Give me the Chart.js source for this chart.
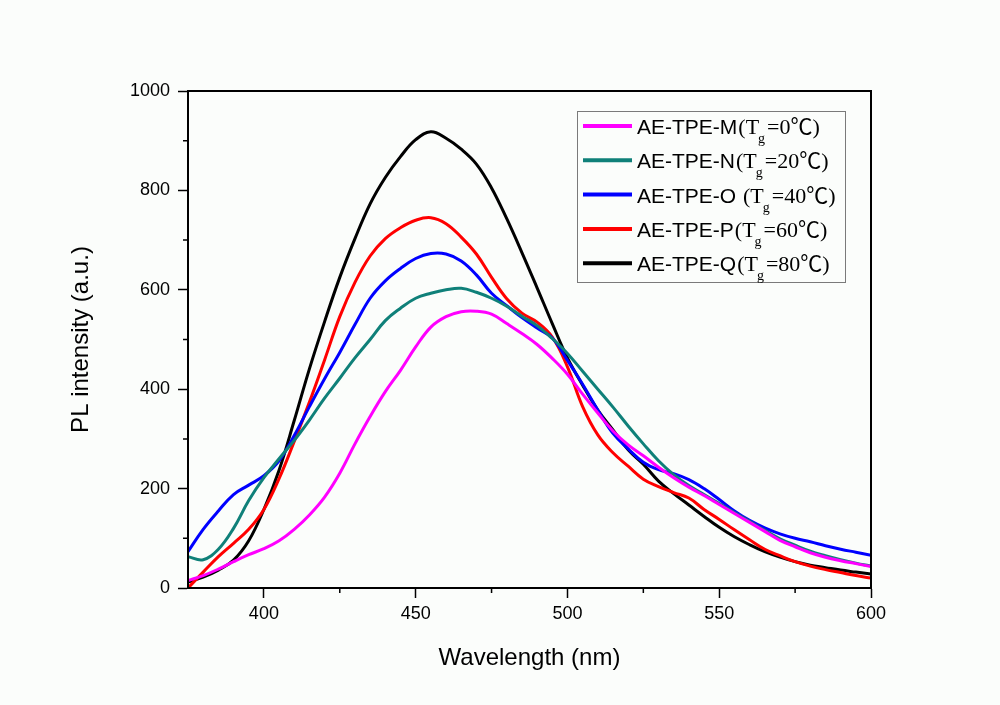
<!DOCTYPE html>
<html>
<head>
<meta charset="utf-8">
<script src="https://cdn.jsdelivr.net/npm/chart.js@4.4.0/dist/chart.umd.min.js"></script>
<style>
  html, body { margin: 0; padding: 0; background: #fbfdfb; }
  #wrap { width: 1000px; height: 705px; position: relative; }
</style>
</head>
<body>
<div id="wrap"><canvas id="chart"></canvas></div>
<script>
// wavelength (nm)
const wavelengths = [375, 380, 385, 390, 395, 400, 405, 410, 415, 420, 425, 430, 435, 440, 445, 450,
  455, 460, 465, 470, 475, 480, 485, 490, 495, 500, 505, 510, 515, 520, 525, 530, 535, 540,
  545, 550, 555, 560, 565, 570, 575, 580, 585, 590, 595, 600];

// PL intensity
const intensityM = [15, 25, 38, 53, 67, 79, 95, 118, 147, 183, 231, 290, 345, 395, 438, 485,
  525, 546, 556, 557, 551, 532, 512, 490, 462, 430, 390, 352, 316, 288, 266, 243, 222, 203,
  186, 168, 150, 132, 114, 96, 83, 71, 62, 55, 49, 43];
const intensityN = [63, 57, 78, 120, 176, 222, 260, 297, 338, 382, 422, 463, 500, 538, 563, 583,
  593, 600, 603, 595, 583, 567, 547, 528, 502, 472, 436, 400, 364, 326, 290, 256, 228, 206,
  188, 170, 152, 134, 116, 99, 86, 74, 65, 57, 50, 44];
const intensityO = [73, 118, 155, 188, 207, 226, 256, 307, 365, 421, 474, 530, 583, 618, 643, 663,
  673, 672, 658, 630, 593, 568, 544, 523, 503, 458, 410, 358, 311, 280, 253, 238, 230, 218,
  200, 178, 155, 136, 121, 109, 100, 93, 85, 78, 72, 66];
const intensityP = [0, 32, 63, 90, 118, 158, 220, 295, 374, 459, 546, 615, 668, 703, 725, 740,
  745, 733, 706, 672, 625, 582, 553, 535, 505, 445, 365, 308, 272, 245, 219, 204, 192, 181,
  158, 138, 117, 97, 78, 65, 53, 44, 37, 31, 25, 20];
const intensityQ = [12, 22, 36, 56, 95, 158, 237, 337, 441, 536, 625, 703, 773, 826, 868, 902,
  918, 905, 883, 853, 805, 743, 675, 604, 532, 463, 408, 358, 318, 278, 249, 215, 190, 167,
  144, 122, 103, 87, 73, 62, 53, 46, 41, 36, 32, 28];

const sampleNames = ['AE-TPE-M', 'AE-TPE-N', 'AE-TPE-O ', 'AE-TPE-P', 'AE-TPE-Q'];
const tgValues = ['0', '20', '40', '60', '80'];
const colors = ['#ff00ff', '#0f8079', '#0000ff', '#ff0000', '#000000'];

const xTicks = [400, 450, 500, 550, 600];
const xMinor = [425, 475, 525, 575];
const yTicks = [0, 200, 400, 600, 800, 1000];
const yMinor = [100, 300, 500, 700, 900];

const sans = '"Liberation Sans", Arial, sans-serif';
const serif = '"Liberation Serif", "Times New Roman", "Noto Sans CJK SC", serif';

const series = [intensityM, intensityN, intensityO, intensityP, intensityQ];

const bgPlugin = {
  id: 'bg',
  beforeDraw(chart) {
    const ctx = chart.ctx;
    ctx.save();
    ctx.fillStyle = '#fbfdfb';
    ctx.fillRect(0, 0, chart.width, chart.height);
    ctx.restore();
  }
};

// minor ticks and the closed frame round the plot
const framePlugin = {
  id: 'frame',
  afterDraw(chart) {
    const {ctx, chartArea: a, scales: {x, y}} = chart;
    ctx.save();
    ctx.strokeStyle = '#000';
    ctx.lineWidth = 1.5;
    ctx.beginPath();
    xMinor.forEach(v => {
      const px = x.getPixelForValue(v);
      ctx.moveTo(px, a.bottom);
      ctx.lineTo(px, a.bottom + 5);
    });
    yMinor.forEach(v => {
      const py = y.getPixelForValue(v);
      ctx.moveTo(a.left, py);
      ctx.lineTo(a.left - 5, py);
    });
    ctx.stroke();
    ctx.lineWidth = 2;
    ctx.strokeRect(a.left, a.top, a.right - a.left, a.bottom - a.top);
    ctx.restore();
  }
};

// legend with the subscript g in T_g
const legendPlugin = {
  id: 'tgLegend',
  afterDraw(chart) {
    const ctx = chart.ctx;
    const bx = 577, by = 111, bw = 268, bh = 171;
    ctx.save();
    ctx.fillStyle = '#fbfdfb';
    ctx.fillRect(bx, by, bw, bh);
    ctx.strokeStyle = '#7a7a7a';
    ctx.lineWidth = 1;
    ctx.strokeRect(bx + 0.5, by + 0.5, bw, bh);
    ctx.textBaseline = 'alphabetic';
    ctx.textAlign = 'left';
    chart.data.datasets.forEach((ds, i) => {
      const y = 126 + i * 34.3;
      ctx.strokeStyle = ds.borderColor;
      ctx.lineWidth = 4;
      ctx.beginPath();
      ctx.moveTo(583, y);
      ctx.lineTo(632, y);
      ctx.stroke();

      const base = y + 8;
      let tx = 637;
      ctx.fillStyle = '#000';
      ctx.font = '21px ' + sans;
      ctx.fillText(sampleNames[i], tx, base);
      tx += ctx.measureText(sampleNames[i]).width + 1;
      ctx.font = '22px ' + serif;
      ctx.fillText('(T', tx, base);
      tx += ctx.measureText('(T').width;
      ctx.font = '14px ' + serif;
      ctx.fillText('g', tx - 1, base + 9);
      tx += ctx.measureText('g').width + 1;
      ctx.font = '22px ' + serif;
      ctx.fillText('=' + tgValues[i] + '\u2103)', tx, base);
    });
    ctx.restore();
  }
};

new Chart(document.getElementById('chart'), {
  type: 'line',
  data: {
    datasets: series.map((vals, i) => ({
      label: sampleNames[i].trim(),
      data: wavelengths.map((w, k) => ({x: w, y: vals[k]})),
      borderColor: colors[i],
      backgroundColor: colors[i],
      borderWidth: 3,
      pointRadius: 0,
      tension: 0.4,
      fill: false
    }))
  },
  options: {
    responsive: true,
    maintainAspectRatio: false,
    animation: false,
    layout: { padding: { top: 91, right: 129, left: 0, bottom: 0 } },
    plugins: {
      legend: { display: false },
      tooltip: { enabled: false }
    },
    scales: {
      x: {
        type: 'linear',
        min: 375,
        max: 600,
        afterBuildTicks: s => { s.ticks = xTicks.map(v => ({value: v})); },
        afterFit: s => { s.height = 117; },
        grid: { drawOnChartArea: false, tickLength: 10, tickWidth: 1.5, tickColor: '#000' },
        border: { color: '#000', width: 2 },
        ticks: { color: '#000', font: {family: sans, size: 18}, padding: 5, maxRotation: 0,
          callback: v => String(v) },
        title: {
          display: true, text: 'Wavelength (nm)', color: '#000',
          font: {family: sans, size: 24}, padding: {top: 0, bottom: 32}
        }
      },
      y: {
        min: 0,
        max: 1000,
        afterBuildTicks: s => { s.ticks = yTicks.map(v => ({value: v})); },
        afterFit: s => { s.width = 188; },
        grid: { drawOnChartArea: false, tickLength: 10, tickWidth: 1.5, tickColor: '#000' },
        border: { color: '#000', width: 2 },
        ticks: { color: '#000', font: {family: sans, size: 18}, padding: 8,
          callback: v => String(v) },
        title: {
          display: true, text: 'PL intensity (a.u.)', color: '#000',
          font: {family: sans, size: 24}, padding: {top: 67, bottom: 0}
        }
      }
    }
  },
  plugins: [bgPlugin, framePlugin, legendPlugin]
});
</script>
</body>
</html>
